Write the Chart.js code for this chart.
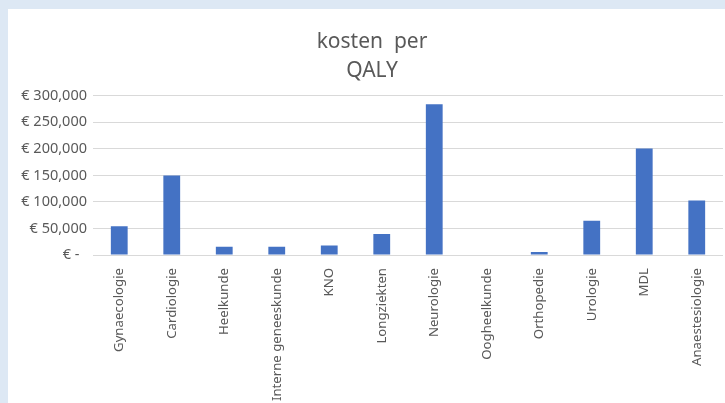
<!DOCTYPE html>
<html>
<head>
<meta charset="utf-8">
<script src="https://cdn.jsdelivr.net/npm/chart.js@4/dist/chart.umd.min.js"></script>
<style>
html,body{margin:0;padding:0;overflow:hidden;}
body{background:#dde8f4;width:725px;height:403px;position:relative;}
#panel{position:absolute;left:8px;top:9px;width:728px;height:394px;background:#fff;overflow:hidden;}
</style>
</head>
<body>
<div id="panel"><canvas id="chart" width="728" height="394"></canvas></div>
<script>
const titleLines = ["kosten  per", "QALY"];

const categories = [
    "Gynaecologie", "Cardiologie", "Heelkunde", "Interne geneeskunde",
    "KNO", "Longziekten", "Neurologie", "Oogheelkunde",
    "Orthopedie", "Urologie", "MDL", "Anaestesiologie"
];

const costs = [
    54000, 150000, 15500, 15500,
    18000, 39500, 284000, 0,
    5500, 64500, 200500, 102500
];

const yTicks = [0, 50000, 100000, 150000, 200000, 250000, 300000];

function euro(v){
    if(v === 0){
        return "€ -  ";
    }
    return "€ " + v.toLocaleString("en-US");
}

const grey = "#595959";

new Chart(document.getElementById("chart"),{

    type:"bar",

    data:{
        labels:categories,
        datasets:[{
            label:"kosten per QALY",
            data:costs,
            backgroundColor:"#4472c4",
            barPercentage:0.32,
            categoryPercentage:1.0
        }]
    },

    options:{
        responsive:false,
        animation:false,
        layout:{
            padding:{top:0, right:13, bottom:0, left:13}
        },
        plugins:{
            legend:{display:false},
            tooltip:{enabled:false},
            title:{
                display:true,
                text:titleLines,
                color:grey,
                font:{family:"Noto Sans", size:21, weight:"normal", lineHeight:1.4},
                padding:{top:18, bottom:10}
            }
        },
        scales:{
            x:{
                grid:{display:false},
                border:{display:false},
                ticks:{
                    autoSkip:false,
                    maxRotation:90,
                    minRotation:90,
                    padding:5,
                    color:grey,
                    font:{family:"Noto Sans", size:13.2}
                },
                afterFit(scale){
                    scale.height = 148;
                }
            },
            y:{
                min:0,
                max:300000,
                afterBuildTicks(scale){
                    scale.ticks = yTicks.map(v=>({value:v}));
                },
                grid:{color:"#d9d9d9", lineWidth:1, drawTicks:false},
                border:{display:false},
                ticks:{
                    padding:6,
                    color:grey,
                    font:{family:"Noto Sans", size:14.5},
                    callback:v=>euro(v)
                },
                afterFit(scale){
                    scale.width = 72;
                }
            }
        }
    }

});
</script>
</body>
</html>
